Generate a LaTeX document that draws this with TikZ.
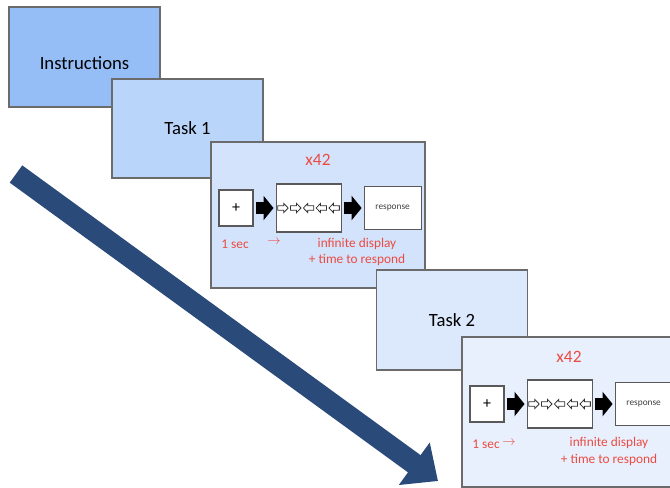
\documentclass[tikz,border=0pt]{standalone}
\usepackage{fontspec}
\setmainfont{Carlito}
\usetikzlibrary{positioning,arrows.meta}

\definecolor{instrblue}{HTML}{95BEF6}
\definecolor{taskAblue}{HTML}{B9D5F9}
\definecolor{trialAblue}{HTML}{D3E3FB}
\definecolor{taskBblue}{HTML}{DCE8FC}
\definecolor{trialBblue}{HTML}{E8F0FD}
\definecolor{timeline}{HTML}{2A4A79}
\definecolor{trialred}{HTML}{EB4B42}

\begin{document}
\begin{tikzpicture}[x=0.75pt,y=-0.75pt,
    slide/.style={draw=black!58, line width=0.8pt, inner sep=0pt,
        minimum width=113.25pt, minimum height=75pt,
        font=\fontsize{14}{16}\selectfont},
    trial/.style={slide, minimum width=160.5pt, minimum height=109.5pt},
    screen/.style={draw=black!65, line width=0.8pt, fill=white, inner sep=0pt},
    redtext/.style={text=trialred, font=\fontsize{10}{12.5}\selectfont, align=center},
    steparrow/.style={line width=9pt, shorten <=1.5pt, shorten >=1.5pt,
        -{Triangle[length=7.5pt,width=18pt]}},
    flankarrow/.style={draw=black!80, line width=0.6pt, fill=white},
    node distance=16.5pt]
\useasboundingbox (0,0) rectangle (670,487);
\clip (0,0) rectangle (670,487);

% time line
\coordinate (start) at (16,174);
\coordinate (end) at (438,481);
\draw[timeline, line width=16pt, -{Triangle[length=22pt,width=38pt]}] (start) -- (end);

% slides, back to front
\node[slide, fill=instrblue, text height=18.5pt, text depth=0pt] (instr) at (84.5,57) {Instructions};
\node[slide, fill=taskAblue, minimum height=74.25pt] (taskA) at (187.5,128.5) {Task 1};
\node[trial, fill=trialAblue] (trialA) at (318,215) {};

% first block of trials
\node[text=trialred, font=\fontsize{13}{15}\selectfont] (repA) at (318,160) {x42};
\node[screen, minimum width=25.5pt, minimum height=27pt, font=\fontsize{12}{13}\selectfont] (fixA) at (236,208) {+};
\node[screen, minimum width=48.75pt, minimum height=36pt, right=of fixA] (flankA) {};
\node[screen, minimum width=42.75pt, minimum height=32.25pt, right=of flankA,
    font=\fontsize{7}{8}\selectfont, text=black!75] (respA) {response};
\draw[steparrow] (fixA) -- (flankA);
\draw[steparrow] (flankA) -- (respA);
\foreach \d [count=\i] in {1,1,-1,-1,-1}
    \draw[flankarrow, shift={(flankA.center)}, shift={({(\i-3)*12.8},0)}, xscale=\d]
        (-5.2,-2.2) -- (0.8,-2.2) -- (0.8,-4.6) -- (5.2,0) -- (0.8,4.6) -- (0.8,2.2) -- (-5.2,2.2) -- cycle;
\node[redtext] (secA) at (235,244) {1 sec};
\node[redtext] (nextA) at (274,242.5) {$\rightarrow$};
\node[redtext] (dispA) at (357,252) {infinite display\\+ time to respond};

\node[slide, fill=taskBblue] (taskB) at (452,320) {Task 2};
\node[trial, fill=trialBblue, minimum height=112.5pt] (trialB) at (569,412) {};

% second block of trials
\node[text=trialred, font=\fontsize{13}{15}\selectfont] (repB) at (569,357) {x42};
\node[screen, minimum width=25.5pt, minimum height=27pt, font=\fontsize{12}{13}\selectfont] (fixB) at (487,404) {+};
\node[screen, minimum width=48.75pt, minimum height=36pt, right=of fixB] (flankB) {};
\node[screen, minimum width=42.75pt, minimum height=32.25pt, right=of flankB,
    font=\fontsize{7}{8}\selectfont, text=black!75] (respB) {response};
\draw[steparrow] (fixB) -- (flankB);
\draw[steparrow] (flankB) -- (respB);
\foreach \d [count=\i] in {1,1,-1,-1,-1}
    \draw[flankarrow, shift={(flankB.center)}, shift={({(\i-3)*12.8},0)}, xscale=\d]
        (-5.2,-2.2) -- (0.8,-2.2) -- (0.8,-4.6) -- (5.2,0) -- (0.8,4.6) -- (0.8,2.2) -- (-5.2,2.2) -- cycle;
\node[redtext] (secB) at (486,444.5) {1 sec};
\node[redtext] (nextB) at (509,443) {$\rightarrow$};
\node[redtext] (dispB) at (609,451.5) {infinite display\\+ time to respond};
\end{tikzpicture}
\end{document}
